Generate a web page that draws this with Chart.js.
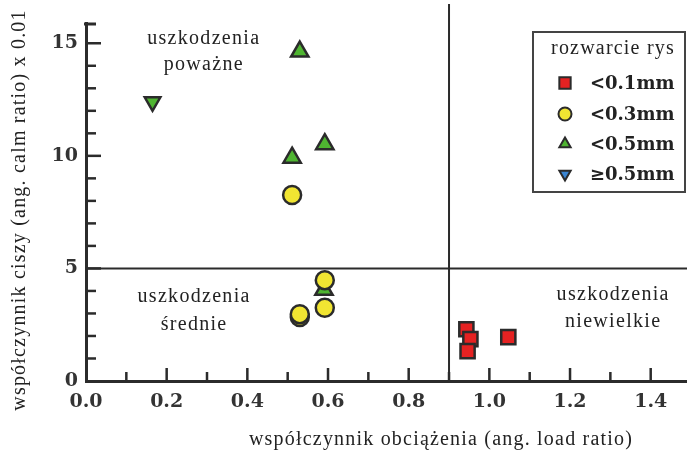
<!DOCTYPE html>
<html><head><meta charset="utf-8">
<script src="https://cdn.jsdelivr.net/npm/chart.js@4/dist/chart.umd.min.js"></script>
<style>html,body{margin:0;padding:0;background:#fff}#wrap{width:687px;height:465px}</style>
</head><body><div id="wrap"><canvas id="c" width="687" height="465"></canvas></div>
<script>
// ---- data ----
const seriesLabels = ['<0.1mm', '<0.3mm', '<0.5mm', '≥0.5mm'];
const crack01 = [[0.943, 2.30], [0.953, 1.86], [0.946, 1.33], [1.047, 1.95]];
const crack03 = [[0.511, 8.26], [0.592, 4.48], [0.592, 3.25], [0.530, 2.84], [0.530, 2.97]];
const crack05 = [[0.530, 14.63], [0.511, 9.92], [0.592, 10.52], [0.590, 4.05]];
const crackBig = [[0.165, 12.4]];
const xTicks = [0.0, 0.2, 0.4, 0.6, 0.8, 1.0, 1.2, 1.4];
const yTicks = [0, 5, 10, 15];
const xSplit = 0.9;
const ySplit = 5;
const regionText = [
  ['uszkodzenia', 'poważne'],
  ['uszkodzenia', 'średnie'],
  ['uszkodzenia', 'niewielkie']
];
const xTitle = 'współczynnik obciążenia (ang. load ratio)';
const yTitle = 'współczynnik ciszy (ang. calm ratio) x 0.01';
const legendTitle = 'rozwarcie rys';

// ---- styles ----
const INK = '#2b2b2b';
const serif = '"Liberation Serif", "DejaVu Serif", serif';
const tickFont = {family: '"DejaVu Serif", serif', size: 19, weight: 'bold'};
const regionPos = [[0.292, 15.22, 14.03], [0.268, 3.73, 2.49], [1.307, 3.82, 2.62]];
const colors = ['#e52222', '#f1e532', '#4fb531', '#3a85d2'];
const legendColors = ['#e52222', '#f1e532', '#4fb531', '#3a85d2'];
const styles = [
  {pointStyle: 'rect', radius: 10, rotation: 0},
  {pointStyle: 'circle', radius: 9, rotation: 0},
  {pointStyle: 'triangle', radius: 10, rotation: 0},
  {pointStyle: 'triangle', radius: 9, rotation: 180}
];
const pts = a => a.map(p => ({x: p[0], y: p[1]}));
const sets = [crack01, crack03, crack05, crackBig];

const datasets = sets.map((s, i) => ({
  label: seriesLabels[i],
  data: pts(s),
  pointStyle: styles[i].pointStyle,
  rotation: styles[i].rotation,
  pointRadius: styles[i].radius,
  pointHoverRadius: styles[i].radius,
  backgroundColor: i === 3 ? colors[2] : colors[i],
  borderColor: INK,
  borderWidth: 2.5,
  showLine: false
}));

const overlay = {
  id: 'overlay',
  beforeDatasetsDraw(chart) {
    const {ctx, chartArea: ca, scales: {x, y}} = chart;
    ctx.save();
    ctx.strokeStyle = INK;
    ctx.lineCap = 'butt';
    // reference lines
    ctx.lineWidth = 2;
    const vx = x.getPixelForValue(xSplit);
    ctx.beginPath(); ctx.moveTo(vx, 4); ctx.lineTo(vx, ca.bottom); ctx.stroke();
    const hy = y.getPixelForValue(ySplit);
    ctx.beginPath(); ctx.moveTo(ca.left, hy); ctx.lineTo(ca.right, hy); ctx.stroke();
    // inward ticks
    ctx.lineWidth = 2.5;
    for (let v = 1; v <= Math.floor(y.max); v++) {
      const py = y.getPixelForValue(v);
      const len = v % 5 === 0 ? 15 : 10;
      ctx.beginPath(); ctx.moveTo(ca.left, py); ctx.lineTo(ca.left + len, py); ctx.stroke();
    }
    for (let k = 1; k / 10 <= x.max; k++) {
      const px = x.getPixelForValue(k / 10);
      const len = k % 2 === 0 ? 13 : 9;
      ctx.beginPath(); ctx.moveTo(px, ca.bottom); ctx.lineTo(px, ca.bottom - len); ctx.stroke();
    }
    // top bracket of y axis
    ctx.lineWidth = 3;
    ctx.beginPath(); ctx.moveTo(ca.left - 2, ca.top + 1); ctx.lineTo(ca.left + 10, ca.top + 1); ctx.stroke();
    ctx.restore();
  },
  afterDraw(chart) {
    const {ctx, chartArea: ca, scales: {x, y}} = chart;
    ctx.save();
    ctx.fillStyle = '#222';
    ctx.textAlign = 'center';
    ctx.textBaseline = 'middle';
    ctx.font = '20px ' + serif;
    ctx.letterSpacing = '1.3px';
    regionText.forEach((lines, i) => {
      const [vx, vy1, vy2] = regionPos[i];
      ctx.fillText(lines[0], x.getPixelForValue(vx), y.getPixelForValue(vy1));
      ctx.fillText(lines[1], x.getPixelForValue(vx), y.getPixelForValue(vy2));
    });
    // axis titles
    ctx.letterSpacing = '1.2px';
    ctx.fillText(xTitle, 441, 440);
    ctx.save();
    ctx.translate(20, 210);
    ctx.rotate(-Math.PI / 2);
    ctx.fillText(yTitle, 0, 0);
    ctx.restore();
    // legend
    const bx = ca.right - 154, by = ca.top + 9, bw = 152, bh = 160;
    ctx.fillStyle = '#fff';
    ctx.fillRect(bx, by, bw, bh);
    ctx.strokeStyle = '#444';
    ctx.lineWidth = 2;
    ctx.strokeRect(bx, by, bw, bh);
    ctx.fillStyle = '#222';
    ctx.letterSpacing = '1.2px';
    ctx.font = '20px ' + serif;
    ctx.fillText(legendTitle, bx + 80, by + 17);
    ctx.letterSpacing = '0px';
    ctx.textAlign = 'left';
    ctx.font = 'bold 18px "DejaVu Serif", serif';
    const rows = [51, 82, 112, 142];
    chart.data.datasets.forEach((ds, i) => {
      const cy = by + rows[i];
      ctx.fillStyle = legendColors[i];
      ctx.strokeStyle = INK;
      ctx.lineWidth = 2;
      Chart.helpers.drawPoint(ctx, {
        pointStyle: ds.pointStyle, rotation: ds.rotation,
        radius: ds.pointStyle === 'rect' ? 8 : 6.5, borderWidth: 2
      }, bx + 32, cy);
      ctx.fillStyle = '#222';
      ctx.fillText(ds.label, bx + 57, cy + 1);
    });
    ctx.restore();
  }
};

new Chart(document.getElementById('c'), {
  type: 'scatter',
  data: {datasets},
  plugins: [overlay],
  options: {
    responsive: false,
    animation: false,
    events: [],
    clip: false,
    layout: {autoPadding: false, padding: {top: 23, right: 0, left: 0, bottom: 0}},
    plugins: {legend: {display: false}, tooltip: {enabled: false}},
    scales: {
      x: {
        type: 'linear', min: 0, max: 1.49,
        afterFit: s => { s.height = 84; s.paddingRight = 0; s.paddingLeft = 0; },
        afterBuildTicks: s => { s.ticks = xTicks.map(v => ({value: v})); },
        grid: {display: false, drawTicks: false},
        border: {display: true, color: INK, width: 3},
        ticks: {font: tickFont, color: '#333', padding: 10, maxRotation: 0, autoSkip: false,
                callback: v => Number(v).toFixed(1)}
      },
      y: {
        type: 'linear', min: 0, max: 15.9,
        afterFit: s => { s.width = 86; s.paddingTop = 0; s.paddingBottom = 0; },
        afterBuildTicks: s => { s.ticks = yTicks.map(v => ({value: v})); },
        grid: {display: false, drawTicks: false},
        border: {display: true, color: INK, width: 3},
        ticks: {font: tickFont, color: '#333', padding: 8, autoSkip: false,
                callback: v => String(v)}
      }
    }
  }
});
</script>
</body></html>
